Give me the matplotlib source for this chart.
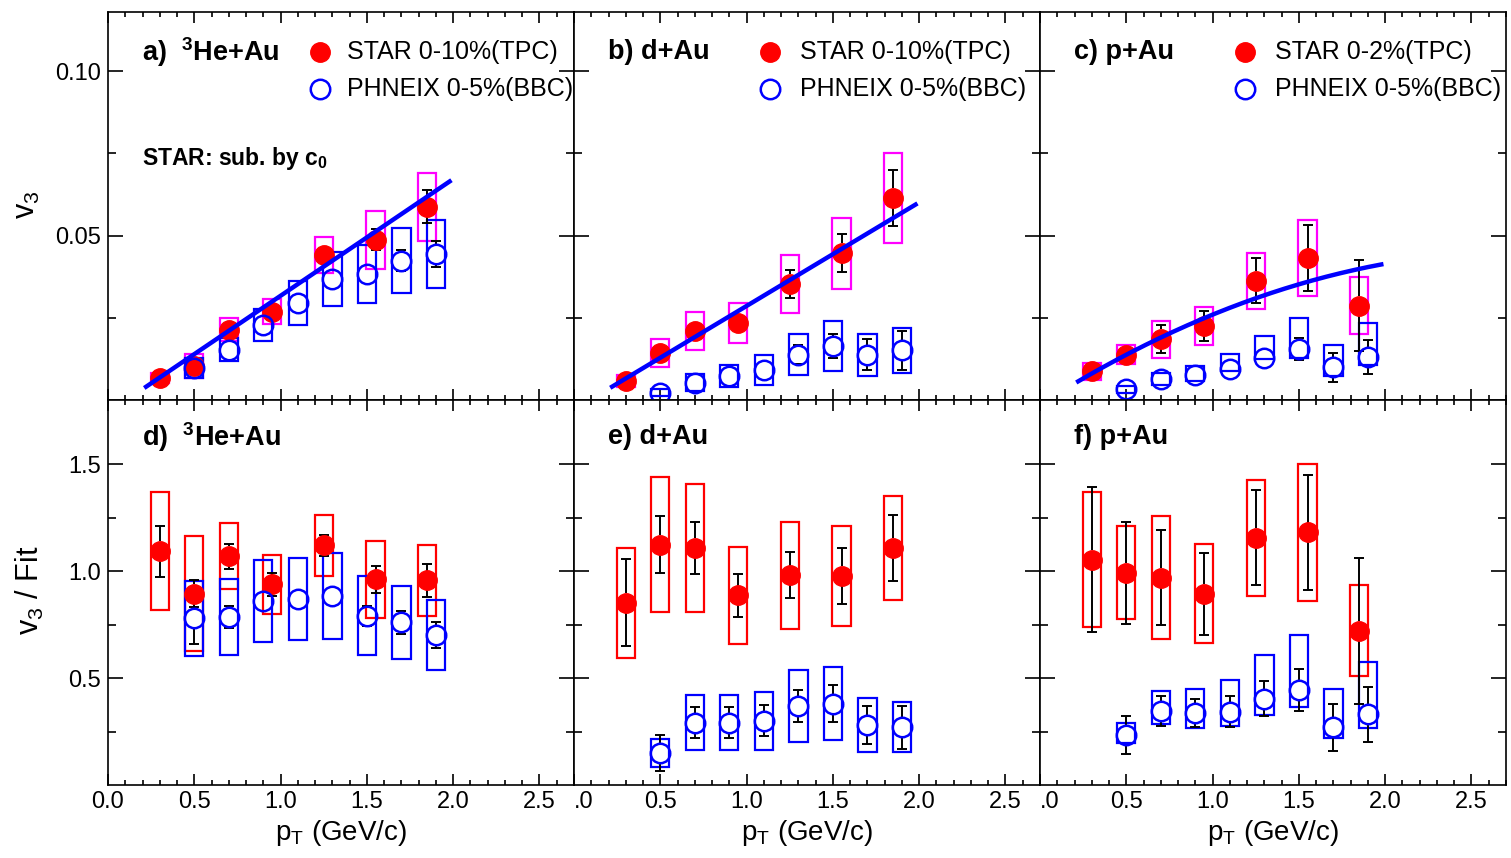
import matplotlib
matplotlib.use("Agg")
import matplotlib.pyplot as plt
from matplotlib.patches import Rectangle
from matplotlib.ticker import MultipleLocator, FixedLocator, NullFormatter
import numpy as np

plt.rcParams['font.family'] = ['Liberation Sans', 'DejaVu Sans']
plt.rcParams['mathtext.fontset'] = 'custom'
plt.rcParams['mathtext.rm'] = 'Liberation Sans'
plt.rcParams['mathtext.it'] = 'Liberation Sans:italic'
plt.rcParams['mathtext.bf'] = 'Liberation Sans:bold'

# ---------------------------------------------------------------- pT bins
star_pt = [0.30, 0.50, 0.70, 0.95, 1.25, 1.55, 1.85]
phenix_pt = [0.50, 0.70, 0.90, 1.10, 1.30, 1.50, 1.70, 1.90]

# ---------------------------------------------------------------- v3 (top row)
# 3He+Au
he_star_v3 = [0.0067, 0.0104, 0.0214, 0.0269, 0.0441, 0.0487, 0.0588]
he_star_stat = [0.0003, 0.0005, 0.0008, 0.0010, 0.0015, 0.0032, 0.0050]
he_star_sys = [0.0016, 0.0036, 0.0036, 0.0038, 0.0056, 0.0089, 0.0103]
he_phx_v3 = [0.0097, 0.0153, 0.0229, 0.0295, 0.0368, 0.0383, 0.0424, 0.0444]
he_phx_stat = [0.0005, 0.0008, 0.0010, 0.0012, 0.0015, 0.0020, 0.0033, 0.0040]
he_phx_sys_lo = [0.0030, 0.0035, 0.0049, 0.0066, 0.0082, 0.0089, 0.0098, 0.0102]
he_phx_sys_hi = [0.0030, 0.0035, 0.0049, 0.0066, 0.0082, 0.0089, 0.0098, 0.0102]

# d+Au
d_star_v3 = [0.0057, 0.0143, 0.0209, 0.0234, 0.0353, 0.0447, 0.0614]
d_star_stat = [0.0005, 0.0015, 0.0020, 0.0025, 0.0043, 0.0059, 0.0086]
d_star_sys = [0.0018, 0.0042, 0.0058, 0.0061, 0.0089, 0.0108, 0.0136]
d_phx_v3 = [0.0022, 0.0052, 0.0072, 0.0092, 0.0138, 0.0165, 0.0138, 0.0151]
d_phx_stat = [0.0005, 0.0010, 0.0015, 0.0020, 0.0030, 0.0037, 0.0047, 0.0059]
d_phx_sys_lo = [0.0010, 0.0026, 0.0033, 0.0046, 0.0062, 0.0076, 0.0064, 0.0069]
d_phx_sys_hi = [0.0010, 0.0026, 0.0033, 0.0046, 0.0062, 0.0076, 0.0064, 0.0069]

# p+Au
p_star_v3 = [0.0087, 0.0138, 0.0185, 0.0224, 0.0363, 0.0431, 0.0287]
p_star_stat = [0.0010, 0.0020, 0.0042, 0.0046, 0.0069, 0.0100, 0.0139]
p_star_sys = [0.0026, 0.0030, 0.0056, 0.0058, 0.0085, 0.0116, 0.0086]
p_phx_v3 = [0.0032, 0.0064, 0.0077, 0.0094, 0.0128, 0.0155, 0.0099, 0.0130]
p_phx_stat = [0.0005, 0.0010, 0.0010, 0.0012, 0.0015, 0.0033, 0.0043, 0.0052]
p_phx_sys_lo = [0.0010, 0.0018, 0.0020, 0.0007, 0.0003, 0.0027, 0.0027, 0.0025]
p_phx_sys_hi = [0.0010, 0.0018, 0.0025, 0.0047, 0.0068, 0.0094, 0.0069, 0.0104]

# polynomial fits to STAR v3 (c0 + c1*pT + c2*pT^2)
he_fit = [-0.0038, 0.0355, 0.0]
d_fit = [-0.0029, 0.0315, 0.0]
p_fit = [-0.0014, 0.0333, -0.00594]
fit_range = [0.21, 1.99]

# ---------------------------------------------------------------- v3 / Fit (bottom row)
he_star_r = [1.093, 0.895, 1.070, 0.938, 1.121, 0.961, 0.957]
he_star_r_stat = [0.119, 0.064, 0.058, 0.054, 0.050, 0.065, 0.078]
he_star_r_sys = [0.275, 0.267, 0.155, 0.137, 0.143, 0.180, 0.166]
he_phx_r = [0.779, 0.786, 0.861, 0.869, 0.884, 0.791, 0.760, 0.701]
he_phx_r_stat = [0.122, 0.050, 0.030, 0.030, 0.030, 0.048, 0.052, 0.062]
he_phx_r_sys_lo = [0.176, 0.176, 0.192, 0.192, 0.201, 0.185, 0.172, 0.163]
he_phx_r_sys_hi = [0.176, 0.176, 0.192, 0.192, 0.201, 0.185, 0.172, 0.163]

d_star_r = [0.853, 1.124, 1.108, 0.887, 0.980, 0.977, 1.108]
d_star_r_stat = [0.205, 0.133, 0.120, 0.100, 0.108, 0.130, 0.155]
d_star_r_sys = [0.257, 0.317, 0.300, 0.226, 0.249, 0.234, 0.244]
d_phx_r = [0.149, 0.291, 0.291, 0.300, 0.369, 0.381, 0.280, 0.270]
d_phx_r_stat = [0.085, 0.072, 0.072, 0.072, 0.076, 0.085, 0.089, 0.100]
d_phx_r_sys_lo = [0.064, 0.128, 0.128, 0.137, 0.167, 0.170, 0.128, 0.118]
d_phx_r_sys_hi = [0.064, 0.128, 0.128, 0.137, 0.167, 0.170, 0.128, 0.118]

p_star_r = [1.054, 0.992, 0.969, 0.895, 1.155, 1.181, 0.721]
p_star_r_stat = [0.339, 0.238, 0.222, 0.192, 0.222, 0.268, 0.342]
p_star_r_sys = [0.315, 0.217, 0.287, 0.230, 0.273, 0.319, 0.212]
p_phx_r = [0.234, 0.347, 0.335, 0.342, 0.404, 0.446, 0.270, 0.330]
p_phx_r_stat = [0.087, 0.069, 0.065, 0.073, 0.081, 0.098, 0.110, 0.129]
p_phx_r_sys_lo = [0.039, 0.062, 0.067, 0.066, 0.077, 0.083, 0.051, 0.062]
p_phx_r_sys_hi = [0.054, 0.093, 0.113, 0.147, 0.205, 0.255, 0.178, 0.244]

# ---------------------------------------------------------------- labels
top_labels = [r"a)  $^{\mathbf{3}}$He+Au", "b) d+Au", "c) p+Au"]
bottom_labels = [r"d)  $^{\mathbf{3}}$He+Au", "e) d+Au", "f) p+Au"]
star_legend = ["STAR 0-10%(TPC)", "STAR 0-10%(TPC)", "STAR 0-2%(TPC)"]
phenix_legend = "PHNEIX 0-5%(BBC)"
x_ticks = [0.0, 0.5, 1.0, 1.5, 2.0, 2.5]
x_tick_labels = ["0.0", "0.5", "1.0", "1.5", "2.0", "2.5"]

RED = "#ff0000"
BLUE = "#0000ff"
MAGENTA = "#ff00ff"
HALF_W = 0.053
MS = 14          # marker size (points)
DPI = 100

W, H = 1511, 858
fig = plt.figure(figsize=(W / DPI, H / DPI), dpi=DPI)

lefts = [108, 574, 1040]
pw = 466


def px_axes(x0, y_top, w, h):
    return fig.add_axes([x0 / W, 1 - (y_top + h) / H, w / W, h / H])


def draw_boxes(ax, x, y, lo, hi, color):
    for xi, yi, l, h in zip(x, y, lo, hi):
        ax.add_patch(Rectangle((xi - HALF_W, yi - l), 2 * HALF_W, l + h,
                               fill=False, ec=color, lw=1.6, zorder=3))


def draw_stat(ax, x, y, err, gap):
    """Vertical error bars drawn only outside the marker (gap = marker radius in data units)."""
    for xi, yi, e in zip(x, y, err):
        if e <= gap:
            continue
        ax.vlines([xi, xi], [yi + gap, yi - e], [yi + e, yi - gap],
                  colors='black', lw=1.4, zorder=4)
        ax.plot([xi, xi], [yi + e, yi - e], ls='none', marker='_', ms=7,
                mew=1.4, color='black', zorder=4)


def draw_points(ax, star_x, star_y, star_err, phx_x, phx_y, phx_err):
    h_px = ax.get_position().height * H
    y0, y1 = ax.get_ylim()
    gap = (MS / 2 * DPI / 72) * (y1 - y0) / h_px
    draw_stat(ax, star_x, star_y, star_err, gap)
    draw_stat(ax, phx_x, phx_y, phx_err, gap)
    ax.plot(star_x, star_y, 'o', ms=MS, mfc=RED, mec=RED, zorder=5)
    ax.plot(phx_x, phx_y, 'o', ms=MS, mfc='none', mec=BLUE, mew=1.8, zorder=5)


def style_axes(ax, bottom_row, first_col):
    ax.set_xlim(0, 2.7)
    ax.xaxis.set_major_locator(FixedLocator(x_ticks))
    ax.xaxis.set_minor_locator(MultipleLocator(0.1))
    ax.tick_params(which='both', direction='in', top=True, right=True,
                   labelsize=17, width=1.2, colors='black')
    ax.xaxis.set_tick_params(which='major', length=8, pad=4)
    ax.xaxis.set_tick_params(which='minor', length=3.8)
    ax.yaxis.set_tick_params(which='major', length=11, pad=5)
    ax.yaxis.set_tick_params(which='minor', length=5.5)
    for sp in ax.spines.values():
        sp.set_linewidth(1.2)
    if bottom_row:
        ax.set_xticklabels(x_tick_labels)
        if not first_col:
            lab = ax.get_xticklabels()
            lab[0].set_text(".0")
            lab[0].set_horizontalalignment('left')
            ax.set_xticklabels(lab)
        ax.set_xlabel(r"p$_{\mathrm{T}}$ (GeV/c)", fontsize=20, labelpad=4)
    else:
        ax.xaxis.set_major_formatter(NullFormatter())
    if not first_col:
        ax.yaxis.set_major_formatter(NullFormatter())


top_data = [
    (he_star_v3, he_star_stat, he_star_sys, he_phx_v3, he_phx_stat, he_phx_sys_lo, he_phx_sys_hi, he_fit),
    (d_star_v3, d_star_stat, d_star_sys, d_phx_v3, d_phx_stat, d_phx_sys_lo, d_phx_sys_hi, d_fit),
    (p_star_v3, p_star_stat, p_star_sys, p_phx_v3, p_phx_stat, p_phx_sys_lo, p_phx_sys_hi, p_fit),
]
bottom_data = [
    (he_star_r, he_star_r_stat, he_star_r_sys, he_phx_r, he_phx_r_stat, he_phx_r_sys_lo, he_phx_r_sys_hi),
    (d_star_r, d_star_r_stat, d_star_r_sys, d_phx_r, d_phx_r_stat, d_phx_r_sys_lo, d_phx_r_sys_hi),
    (p_star_r, p_star_r_stat, p_star_r_sys, p_phx_r, p_phx_r_stat, p_phx_r_sys_lo, p_phx_r_sys_hi),
]

legend_marker_x = [0.455, 0.421, 0.440]
legend_text_x = [0.513, 0.485, 0.504]

for i in range(3):
    # ---------------- top row: v3
    ax = px_axes(lefts[i], 12, pw, 388)
    ax.set_ylim(0, 0.118)
    sv, ss, ssys, pv, pst, plo, phi, fit = top_data[i]
    draw_boxes(ax, star_pt, sv, ssys, ssys, MAGENTA)
    draw_boxes(ax, phenix_pt, pv, plo, phi, BLUE)
    draw_points(ax, star_pt, sv, ss, phenix_pt, pv, pst)
    xf = np.linspace(fit_range[0], fit_range[1], 200)
    yf = fit[0] + fit[1] * xf + fit[2] * xf ** 2
    ax.plot(xf, yf, color=BLUE, lw=3.2, zorder=6, solid_capstyle='butt')
    ax.yaxis.set_major_locator(FixedLocator([0.05, 0.10]))
    ax.yaxis.set_minor_locator(FixedLocator([0.025, 0.075]))
    ax.set_yticklabels(["0.05", "0.10"])
    style_axes(ax, False, i == 0)

    ax.text(0.073, 0.897, top_labels[i], transform=ax.transAxes,
            fontsize=19.5, fontweight='bold', va='center', ha='left')
    ax.plot([legend_marker_x[i]], [0.897], 'o', ms=MS, mfc=RED, mec=RED,
            transform=ax.transAxes, clip_on=False)
    ax.plot([legend_marker_x[i]], [0.802], 'o', ms=MS, mfc='none', mec=BLUE,
            mew=1.8, transform=ax.transAxes, clip_on=False)
    ax.text(legend_text_x[i], 0.897, star_legend[i], transform=ax.transAxes,
            fontsize=18, va='center', ha='left')
    ax.text(legend_text_x[i], 0.802, phenix_legend, transform=ax.transAxes,
            fontsize=18, va='center', ha='left')
    if i == 0:
        ax.text(0.073, 0.622, r"STAR: sub. by c$_{\mathbf{0}}$",
                transform=ax.transAxes, fontsize=16.5, fontweight='bold',
                va='center', ha='left')

    # ---------------- bottom row: v3 / Fit
    axb = px_axes(lefts[i], 400, pw, 385)
    axb.set_ylim(0, 1.8)
    sr, srs, srsys, pr, prs, prlo, prhi = bottom_data[i]
    draw_boxes(axb, star_pt, sr, srsys, srsys, RED)
    draw_boxes(axb, phenix_pt, pr, prlo, prhi, BLUE)
    draw_points(axb, star_pt, sr, srs, phenix_pt, pr, prs)
    axb.yaxis.set_major_locator(FixedLocator([0.5, 1.0, 1.5]))
    axb.yaxis.set_minor_locator(FixedLocator([0.25, 0.75, 1.25]))
    axb.set_yticklabels(["0.5", "1.0", "1.5"])
    style_axes(axb, True, i == 0)
    axb.text(0.073, 0.904, bottom_labels[i], transform=axb.transAxes,
             fontsize=19.5, fontweight='bold', va='center', ha='left')

fig.text(27 / W, 1 - 205 / H, r"v$_{3}$", rotation=90, fontsize=22,
         ha='center', va='center')
fig.text(30 / W, 1 - 590 / H, r"v$_{3}$ / Fit", rotation=90, fontsize=22,
         ha='center', va='center')

fig.savefig("out.png", dpi=DPI)
